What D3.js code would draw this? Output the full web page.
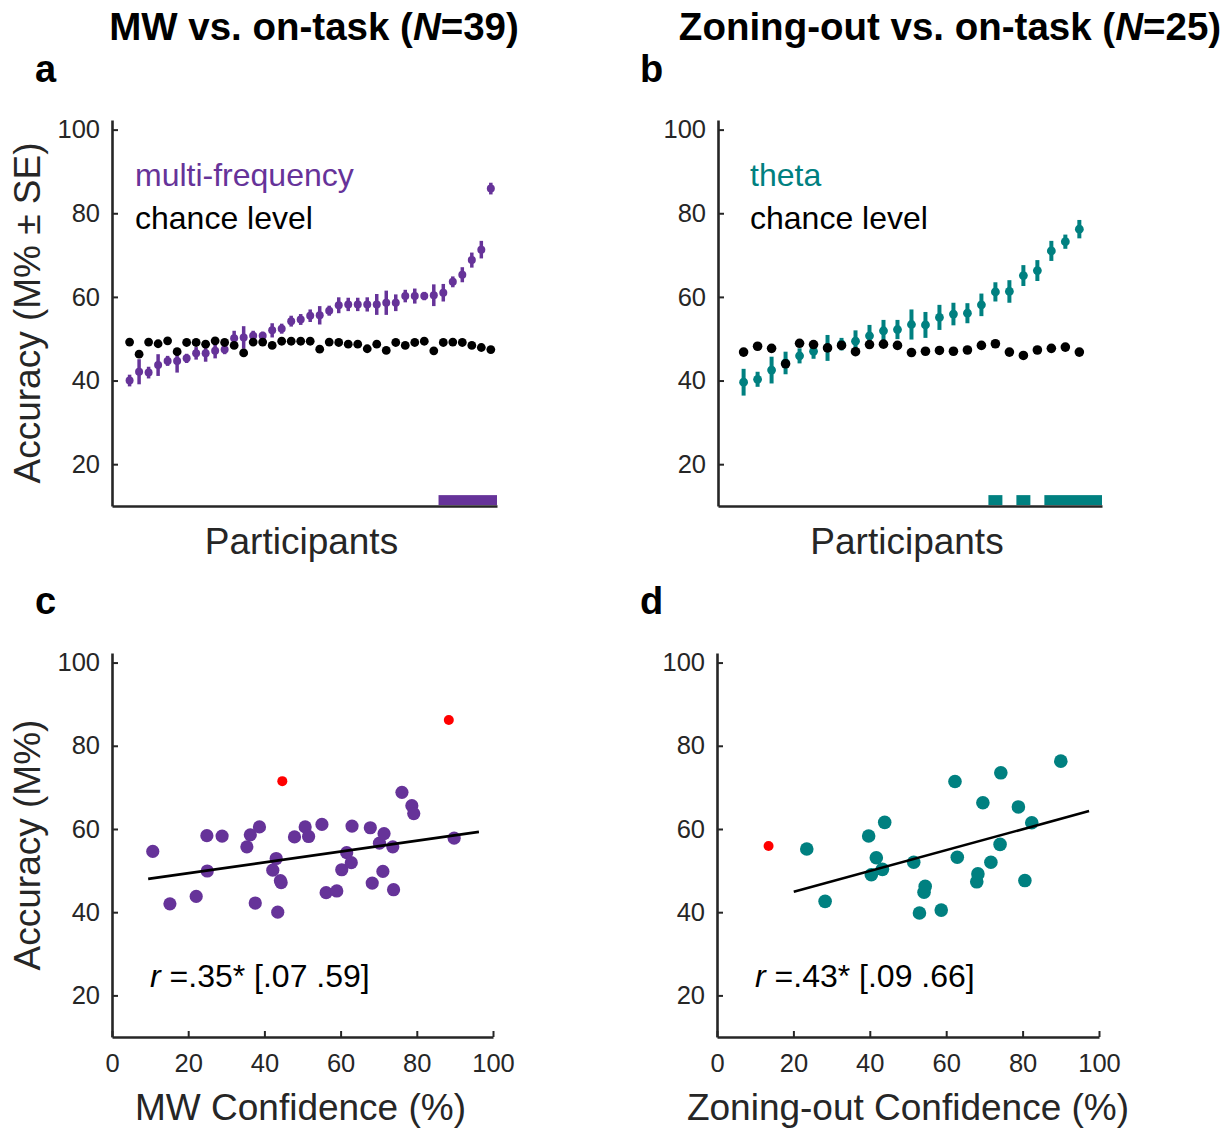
<!DOCTYPE html>
<html>
<head>
<meta charset="utf-8">
<script src="https://cdn.jsdelivr.net/npm/d3@7"></script>
<style>
body { margin: 0; background: #fff; }
text { font-family: "Liberation Sans", Arial, Helvetica, sans-serif; }
</style>
</head>
<body>
<div id="chart"></div>
<script>
// panel a: MW vs on-task, sorted participant accuracy, SE and chance level
const mw_acc = [40.0, 42.1, 41.9, 43.7, 44.7, 44.7, 45.3, 46.5, 46.5, 47.1, 47.4, 50.1, 50.3, 50.7, 50.7, 52.0, 52.4, 54.2, 54.6, 55.5, 55.6, 56.7, 58.0, 58.2, 58.2, 58.2, 58.2, 58.6, 58.6, 60.2, 60.2, 60.2, 60.4, 61.0, 63.6, 65.3, 68.8, 71.3, 85.9];
const mw_se = [1.4, 3.0, 1.4, 2.6, 1.2, 2.8, 1.1, 1.5, 2.0, 1.8, 1.1, 1.8, 2.7, 1.2, 1.0, 1.7, 1.2, 1.3, 1.3, 1.5, 2.2, 1.2, 1.9, 1.6, 1.6, 1.7, 2.5, 2.9, 2.0, 1.5, 1.8, 1.0, 2.6, 2.1, 1.3, 1.8, 1.8, 2.1, 1.4];
const mw_chance = [49.2, 46.3, 49.2, 48.8, 49.5, 46.9, 49.1, 49.1, 48.7, 49.5, 49.1, 48.4, 46.6, 49.2, 49.2, 48.4, 49.4, 49.4, 49.4, 49.4, 47.5, 49.2, 49.1, 48.7, 48.7, 47.6, 48.7, 47.2, 49.1, 48.4, 49.1, 49.4, 47.1, 49.1, 49.2, 49.1, 48.4, 47.9, 47.4];
const mw_sig = [34, 35, 36, 37, 38, 39];

// panel b: zoning-out vs on-task
const zo_acc = [39.6, 40.3, 42.5, 44.2, 45.9, 47.0, 47.8, 48.7, 49.4, 50.7, 51.9, 52.2, 53.4, 53.3, 55.1, 55.9, 56.1, 58.1, 61.2, 61.3, 65.1, 66.3, 71.0, 73.2, 76.2];
const zo_se = [3.2, 1.8, 3.2, 2.7, 1.8, 1.8, 3.1, 1.5, 2.6, 2.6, 2.6, 2.3, 3.6, 3.1, 3.0, 2.7, 2.4, 2.7, 2.3, 2.7, 2.5, 2.5, 2.4, 1.7, 2.2];
const zo_chance = [46.8, 48.2, 47.7, 44.0, 48.9, 48.6, 47.8, 48.4, 46.9, 48.6, 48.7, 48.4, 46.7, 47.0, 47.2, 47.0, 47.3, 48.4, 48.8, 46.8, 46.0, 47.3, 47.7, 48.0, 46.8];
const zo_sig = [19, 21, 23, 24, 25];

// panel c: MW confidence vs accuracy
const mw_conf = [10.7, 15.2, 22.1, 24.9, 25.0, 28.9, 35.4, 36.3, 37.6, 38.7, 42.2, 43.1, 43.5, 44.2, 44.4, 47.9, 50.7, 51.6, 55.1, 56.2, 59.0, 60.3, 61.6, 62.8, 63.0, 67.8, 68.3, 70.2, 71.1, 71.4, 73.7, 73.9, 76.1, 78.7, 79.2, 89.8];
const mw_conf_acc = [54.6, 42.0, 43.8, 58.4, 49.9, 58.3, 55.7, 58.6, 42.2, 60.5, 50.1, 52.9, 40.0, 47.6, 47.1, 58.1, 60.5, 58.2, 61.1, 44.7, 45.1, 50.2, 54.3, 51.9, 60.7, 60.3, 47.0, 56.6, 49.8, 58.9, 55.7, 45.4, 68.8, 65.6, 63.7, 57.8];
const mw_outliers = [[44.7, 71.5], [88.4, 86.2]];
const mw_fit = [[9.5, 48.0], [96.3, 59.3]];

// panel d: zoning-out confidence vs accuracy
const zo_conf = [23.5, 28.3, 39.7, 41.7, 40.4, 43.3, 43.9, 51.5, 54.5, 54.2, 53.0, 58.7, 62.3, 62.9, 69.6, 68.3, 68.0, 71.7, 74.3, 74.1, 78.9, 82.4, 80.6, 90.0];
const zo_conf_acc = [55.2, 42.6, 58.3, 53.1, 49.0, 50.3, 61.6, 52.0, 46.2, 44.8, 39.8, 40.5, 71.4, 53.2, 66.3, 49.2, 47.3, 52.0, 73.5, 56.3, 65.3, 61.5, 47.6, 76.3];
const zo_outliers = [[13.5, 55.9]];
const zo_fit = [[20.1, 44.9], [97.4, 64.3]];

const y_ticks = [20, 40, 60, 80, 100];
const x_ticks = [0, 20, 40, 60, 80, 100];

const purple = "#663399";
const teal = "#008080";
const axis_color = "#262626";
const y_domain = [10, 102.3];

const svg = d3.select("#chart").append("svg")
    .attr("width", 1229)
    .attr("height", 1131);

const draw_axes = (g, x, y, w, h, with_x_ticks) => {
    const ya = g.append("g")
        .call(d3.axisLeft(y).tickValues(y_ticks).tickSizeInner(-6).tickSizeOuter(0).tickPadding(12));
    const xa = g.append("g")
        .attr("transform", `translate(0,${h})`)
        .call(d3.axisBottom(x).tickValues(with_x_ticks ? x_ticks : []).tickSizeInner(-6).tickSizeOuter(0).tickPadding(17));
    [ya, xa].forEach(a => {
        a.select(".domain").attr("stroke", axis_color).attr("stroke-width", 2.6);
        a.selectAll(".tick line").attr("stroke", axis_color).attr("stroke-width", 2);
        a.selectAll(".tick text").attr("fill", axis_color).style("font-size", "25.5px");
    });
};

// group consecutive participant indices into runs
const to_runs = (idx) => {
    const runs = [];
    idx.forEach(i => {
        const last = runs[runs.length - 1];
        if (last && last[1] === i - 1) last[1] = i;
        else runs.push([i, i]);
    });
    return runs;
};

const draw_participants = (p, acc, se, chance, sig, color, pad, r, bar_w) => {
    const g = svg.append("g").attr("transform", `translate(${p.left},${p.top})`);
    const n = acc.length;
    const x = d3.scaleLinear().domain([1 - pad[0], n + pad[1]]).range([0, p.width]);
    const y = d3.scaleLinear().domain(y_domain).range([p.height, 0]);

    // significant participants along the bottom
    to_runs(sig).forEach(([a, b]) => {
        const x0 = x(a - 0.5);
        const x1 = b === n ? p.width : x(b + 0.5);
        g.append("rect")
            .attr("x", x0)
            .attr("width", x1 - x0)
            .attr("y", y(12.6))
            .attr("height", y(10.2) - y(12.6))
            .attr("fill", color);
    });

    g.selectAll(".err")
        .data(acc)
        .enter().append("line")
        .attr("x1", (d, i) => x(i + 1))
        .attr("x2", (d, i) => x(i + 1))
        .attr("y1", (d, i) => y(d - se[i]))
        .attr("y2", (d, i) => y(d + se[i]))
        .attr("stroke", color)
        .attr("stroke-width", bar_w);

    g.selectAll(".acc")
        .data(acc)
        .enter().append("circle")
        .attr("cx", (d, i) => x(i + 1))
        .attr("cy", d => y(d))
        .attr("r", r)
        .attr("fill", color);

    g.selectAll(".chance")
        .data(chance)
        .enter().append("circle")
        .attr("cx", (d, i) => x(i + 1))
        .attr("cy", d => y(d))
        .attr("r", r + 0.4)
        .attr("fill", "#000");

    draw_axes(g, x, y, p.width, p.height, false);
    return g;
};

const draw_scatter = (p, xs, ys, outliers, fit, color, r) => {
    const g = svg.append("g").attr("transform", `translate(${p.left},${p.top})`);
    const x = d3.scaleLinear().domain([0, 100]).range([0, p.width]);
    const y = d3.scaleLinear().domain(y_domain).range([p.height, 0]);

    g.selectAll(".pt")
        .data(xs)
        .enter().append("circle")
        .attr("cx", d => x(d))
        .attr("cy", (d, i) => y(ys[i]))
        .attr("r", r)
        .attr("fill", color);

    g.selectAll(".out")
        .data(outliers)
        .enter().append("circle")
        .attr("cx", d => x(d[0]))
        .attr("cy", d => y(d[1]))
        .attr("r", 5)
        .attr("fill", "#ff0000");

    g.append("path")
        .datum(fit)
        .attr("fill", "none")
        .attr("stroke", "#000")
        .attr("stroke-width", 2.6)
        .attr("d", d3.line().x(d => x(d[0])).y(d => y(d[1])));

    draw_axes(g, x, y, p.width, p.height, true);
    return g;
};

const pa = { left: 112, top: 120, width: 385, height: 386 };
const pb = { left: 718, top: 120, width: 384, height: 386 };
const pc = { left: 112, top: 653, width: 381, height: 384 };
const pd = { left: 717, top: 653, width: 382, height: 384 };

draw_participants(pa, mw_acc, mw_se, mw_chance, mw_sig, purple, [1.85, 0.65], 4, 3.5);
draw_participants(pb, zo_acc, zo_se, zo_chance, zo_sig, teal, [1.83, 1.62], 4.4, 4);
draw_scatter(pc, mw_conf, mw_conf_acc, mw_outliers, mw_fit, purple, 6.6);
draw_scatter(pd, zo_conf, zo_conf_acc, zo_outliers, zo_fit, teal, 6.8);

// titles
const title = (x, label, n) => {
    const t = svg.append("text")
        .attr("x", x)
        .attr("y", 40)
        .attr("text-anchor", "middle")
        .style("font-size", "38.5px")
        .style("font-weight", "bold")
        .attr("fill", "#000");
    t.append("tspan").text(label + " (");
    t.append("tspan").style("font-style", "italic").text("N");
    t.append("tspan").text("=" + n + ")");
};
title(314, "MW vs. on-task", 39);
title(950, "Zoning-out vs. on-task", 25);

[["a", 35, 82], ["b", 640, 82], ["c", 35, 614], ["d", 640, 614]].forEach(([s, x, y]) => {
    svg.append("text")
        .attr("x", x)
        .attr("y", y)
        .style("font-size", "38px")
        .style("font-weight", "bold")
        .text(s);
});

// legends
const legend = (x, label, color) => {
    svg.append("text").attr("x", x).attr("y", 186).attr("fill", color).style("font-size", "32px").text(label);
    svg.append("text").attr("x", x).attr("y", 229).attr("fill", "#000").style("font-size", "32px").text("chance level");
};
legend(135, "multi-frequency", purple);
legend(750, "theta", teal);

// axis labels
const y_label = (cy, label) => {
    svg.append("text")
        .attr("transform", `translate(40,${cy}) rotate(-90)`)
        .attr("text-anchor", "middle")
        .attr("fill", axis_color)
        .style("font-size", "37px")
        .text(label);
};
y_label(pa.top + pa.height / 2, "Accuracy (M% \u00b1 SE)");
y_label(pc.top + pc.height / 2, "Accuracy (M%)");

const x_label = (cx, y, label) => {
    svg.append("text")
        .attr("x", cx)
        .attr("y", y)
        .attr("text-anchor", "middle")
        .attr("fill", axis_color)
        .style("font-size", "37px")
        .text(label);
};
x_label(pa.left + pa.width / 2 - 3, 554, "Participants");
x_label(pb.left + pb.width / 2 - 3, 554, "Participants");
x_label(pc.left + pc.width / 2 - 2, 1120, "MW Confidence (%)");
x_label(pd.left + pd.width / 2, 1120, "Zoning-out Confidence (%)");

// correlation text
const r_text = (x, label) => {
    const t = svg.append("text")
        .attr("x", x)
        .attr("y", 987)
        .attr("fill", "#000")
        .style("font-size", "32px");
    t.append("tspan").style("font-style", "italic").text("r");
    t.append("tspan").text(" " + label);
};
r_text(150, "=.35* [.07 .59]");
r_text(755, "=.43* [.09 .66]");
</script>
</body>
</html>
